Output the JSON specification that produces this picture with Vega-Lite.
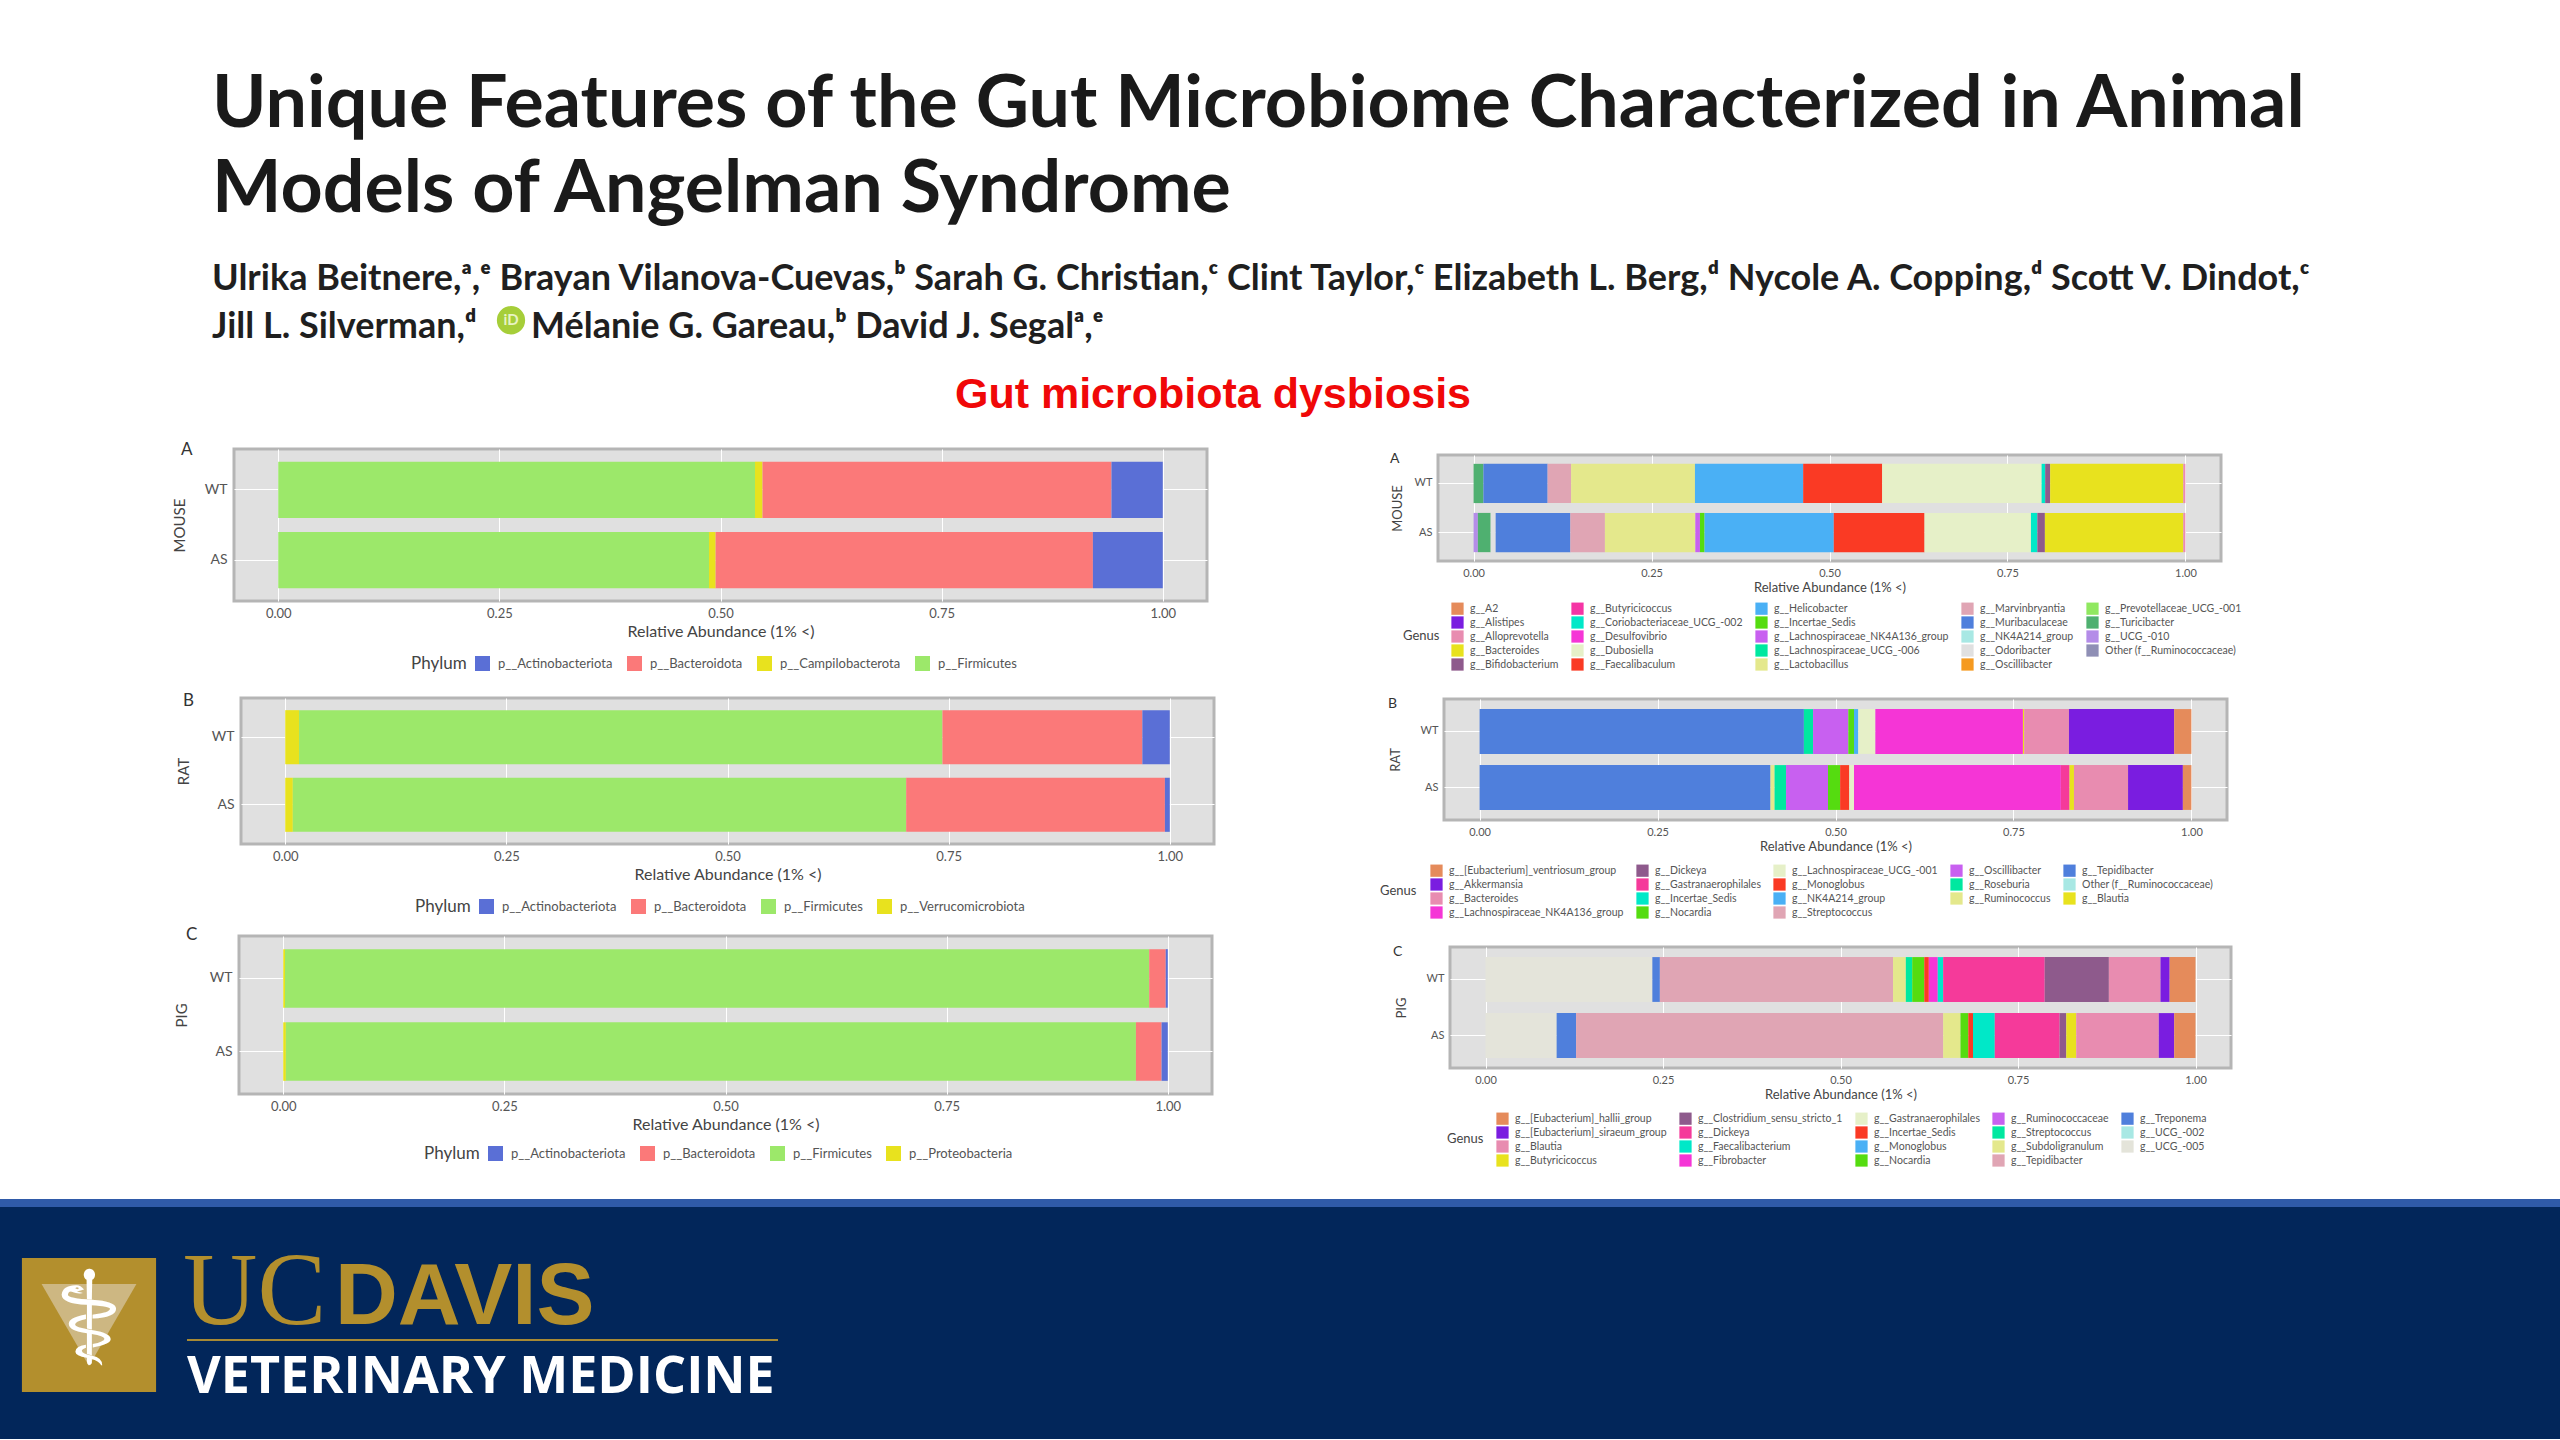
{"$schema":"https://vega.github.io/schema/vega-lite/v6.json","padding":{"left":-16,"top":0,"right":0,"bottom":0},"background":"white","spacing":18,"columns":1,"resolve":{"scale":{"color":"independent"},"legend":{"color":"independent"}},"config":{"font":"Lato","view":{"stroke":null},"concat":{"spacing":0},"axis":{"labelFont":"Lato","titleFont":"Lato","labelColor":"#555555","titleColor":"#444444","titleFontWeight":"normal","domain":false,"ticks":false,"gridColor":"#ffffff","gridWidth":1},"axisX":{"labelFontSize":13,"titleFontSize":16,"labelPadding":6,"titlePadding":3},"legend":{"orient":"none","titleOrient":"left","titleFont":"Lato","labelFont":"Lato","titleFontWeight":"normal","titleColor":"#444444","labelColor":"#555555","symbolType":"square","symbolStrokeWidth":0,"labelLimit":400},"title":{"font":"Lato","fontWeight":"normal","color":"#333333","anchor":"start","frame":"group"}},"concat":[{"spacing":0,"columns":1,"resolve":{"scale":{"color":"independent"},"legend":{"color":"independent"}},"concat":[{"width":2560,"height":439,"data":{"values":[{"text":"Unique Features of the Gut Microbiome Characterized in Animal","kind":"title","slot":1,"line":1},{"text":"Models of Angelman Syndrome","kind":"title","slot":1,"line":2},{"text":"Ulrika Beitnere,ᵃ,ᵉ Brayan Vilanova-Cuevas,ᵇ Sarah G. Christian,ᶜ Clint Taylor,ᶜ Elizabeth L. Berg,ᵈ Nycole A. Copping,ᵈ Scott V. Dindot,ᶜ","kind":"author","slot":1,"line":3},{"text":"Jill L. Silverman,ᵈ","kind":"author","slot":1,"line":4},{"text":"Mélanie G. Gareau,ᵇ David J. Segalᵃ,ᵉ","kind":"author","slot":3,"line":4},{"text":"iD","kind":"badge","slot":2,"line":3.63},{"text":"Gut microbiota dysbiosis","kind":"heading","slot":4,"line":5}]},"encoding":{"x":{"field":"slot","type":"quantitative","axis":null,"scale":{"domain":[1,2,3,4],"range":[212,511,531,1213],"zero":false,"nice":false}},"y":{"field":"line","type":"quantitative","axis":null,"scale":{"domain":[1,2,3,4,5],"range":[127,212,290,338,408],"zero":false,"nice":false}},"text":{"field":"text"}},"layer":[{"transform":[{"filter":"datum.kind==='title'"}],"mark":{"type":"text","align":"left","baseline":"alphabetic","font":"Lato","fontWeight":"bold","fontSize":73.6,"color":"#1a1a1a"}},{"transform":[{"filter":"datum.kind==='author'"}],"mark":{"type":"text","align":"left","baseline":"alphabetic","font":"Lato","fontWeight":"bold","fontSize":36,"color":"#1f1f1f"}},{"transform":[{"filter":"datum.kind==='badge'"}],"mark":{"type":"point","filled":true,"shape":"circle","size":800,"color":"#a6ce39","opacity":1}},{"transform":[{"filter":"datum.kind==='badge'"}],"mark":{"type":"text","align":"center","baseline":"middle","font":"Lato","fontWeight":"bold","fontSize":15,"color":"#e8f3c4"}},{"transform":[{"filter":"datum.kind==='heading'"}],"mark":{"type":"text","align":"center","baseline":"alphabetic","font":"Liberation Sans","fontWeight":"bold","fontSize":43,"color":"#f00808"}}]},{"spacing":0,"resolve":{"scale":{"color":"independent"},"legend":{"color":"independent"}},"concat":[{"width":168,"height":1,"data":{"values":[]},"mark":"rect","encoding":{}},{"spacing":161,"resolve":{"scale":{"color":"independent"},"legend":{"color":"independent"}},"concat":[{"spacing":7,"columns":1,"resolve":{"scale":{"color":"independent"},"legend":{"color":"independent"}},"concat":[{"spacing":16,"columns":1,"resolve":{"scale":{"color":"independent"},"legend":{"color":"independent"}},"concat":[{"spacing":0,"resolve":{"scale":{"color":"independent"},"legend":{"color":"independent"}},"concat":[{"width":2,"height":1,"data":{"values":[]},"mark":"rect","encoding":{}},{"width":973,"height":152,"view":{"fill":"#e0e0e0","stroke":"#b5b5b5","strokeWidth":3},"title":{"text":"A","fontSize":17,"dx":-53,"offset":-10},"data":{"values":[{"group":"WT","taxon":"p__Firmicutes","value":0.539,"k":1},{"group":"WT","taxon":"p__Campilobacterota","value":0.0085,"k":2},{"group":"WT","taxon":"p__Bacteroidota","value":0.3945,"k":3},{"group":"WT","taxon":"p__Actinobacteriota","value":0.058,"k":4},{"group":"AS","taxon":"p__Firmicutes","value":0.487,"k":1},{"group":"AS","taxon":"p__Campilobacterota","value":0.0075,"k":2},{"group":"AS","taxon":"p__Bacteroidota","value":0.4265,"k":3},{"group":"AS","taxon":"p__Actinobacteriota","value":0.079,"k":4}]},"mark":"bar","encoding":{"y":{"field":"group","type":"nominal","sort":["WT","AS"],"scale":{"paddingInner":0.2,"paddingOuter":0.18},"axis":{"title":"MOUSE","titleFontSize":15,"labelFontSize":14,"labelPadding":7,"titlePadding":17,"grid":true}},"x":{"field":"value","type":"quantitative","stack":"zero","scale":{"domain":[-0.05,1.05],"nice":false,"zero":false},"axis":{"title":"Relative Abundance (1% <)","values":[0,0.25,0.5,0.75,1],"format":".2f","grid":true}},"order":{"field":"k"},"color":{"field":"taxon","type":"nominal","scale":{"domain":["p__Actinobacteriota","p__Bacteroidota","p__Campilobacterota","p__Firmicutes"],"range":["#5a6fd6","#fb7979","#e8e21e","#9ce86a"]},"legend":{"title":"Phylum","direction":"horizontal","legendX":177,"legendY":207,"titleFontSize":17,"labelFontSize":13,"symbolSize":225,"columnPadding":14,"labelOffset":8,"titlePadding":8}}}}]},{"spacing":0,"resolve":{"scale":{"color":"independent"},"legend":{"color":"independent"}},"concat":[{"width":5.6,"height":1,"data":{"values":[]},"mark":"rect","encoding":{}},{"width":973,"height":146,"view":{"fill":"#e0e0e0","stroke":"#b5b5b5","strokeWidth":3},"title":{"text":"B","fontSize":17,"dx":-58,"offset":-12},"data":{"values":[{"group":"WT","taxon":"p__Verrucomicrobiota","value":0.0156,"k":1},{"group":"WT","taxon":"p__Firmicutes","value":0.7274,"k":2},{"group":"WT","taxon":"p__Bacteroidota","value":0.226,"k":3},{"group":"WT","taxon":"p__Actinobacteriota","value":0.031,"k":4},{"group":"AS","taxon":"p__Verrucomicrobiota","value":0.0086,"k":1},{"group":"AS","taxon":"p__Firmicutes","value":0.6934,"k":2},{"group":"AS","taxon":"p__Bacteroidota","value":0.2925,"k":3},{"group":"AS","taxon":"p__Actinobacteriota","value":0.0055,"k":4}]},"mark":"bar","encoding":{"y":{"field":"group","type":"nominal","sort":["WT","AS"],"scale":{"paddingInner":0.2,"paddingOuter":0.18},"axis":{"title":"RAT","titleFontSize":15,"labelFontSize":14,"labelPadding":7,"titlePadding":20,"grid":true}},"x":{"field":"value","type":"quantitative","stack":"zero","scale":{"domain":[-0.05,1.05],"nice":false,"zero":false},"axis":{"title":"Relative Abundance (1% <)","values":[0,0.25,0.5,0.75,1],"format":".2f","grid":true}},"order":{"field":"k"},"color":{"field":"taxon","type":"nominal","scale":{"domain":["p__Actinobacteriota","p__Bacteroidota","p__Firmicutes","p__Verrucomicrobiota"],"range":["#5a6fd6","#fb7979","#9ce86a","#e8e21e"]},"legend":{"title":"Phylum","direction":"horizontal","legendX":174,"legendY":201,"titleFontSize":17,"labelFontSize":13,"symbolSize":225,"columnPadding":14,"labelOffset":8,"titlePadding":8}}}}]}]},{"spacing":0,"resolve":{"scale":{"color":"independent"},"legend":{"color":"independent"}},"concat":[{"width":4,"height":1,"data":{"values":[]},"mark":"rect","encoding":{}},{"width":973,"height":158,"view":{"fill":"#e0e0e0","stroke":"#b5b5b5","strokeWidth":3},"title":{"text":"C","fontSize":17,"dx":-53,"offset":-8},"data":{"values":[{"group":"WT","taxon":"p__Proteobacteria","value":0.002,"k":1},{"group":"WT","taxon":"p__Firmicutes","value":0.977,"k":2},{"group":"WT","taxon":"p__Bacteroidota","value":0.0187,"k":3},{"group":"WT","taxon":"p__Actinobacteriota","value":0.0023,"k":4},{"group":"AS","taxon":"p__Proteobacteria","value":0.003,"k":1},{"group":"AS","taxon":"p__Firmicutes","value":0.961,"k":2},{"group":"AS","taxon":"p__Bacteroidota","value":0.029,"k":3},{"group":"AS","taxon":"p__Actinobacteriota","value":0.007,"k":4}]},"mark":"bar","encoding":{"y":{"field":"group","type":"nominal","sort":["WT","AS"],"scale":{"paddingInner":0.2,"paddingOuter":0.18},"axis":{"title":"PIG","titleFontSize":15,"labelFontSize":14,"labelPadding":7,"titlePadding":20,"grid":true}},"x":{"field":"value","type":"quantitative","stack":"zero","scale":{"domain":[-0.05,1.05],"nice":false,"zero":false},"axis":{"title":"Relative Abundance (1% <)","values":[0,0.25,0.5,0.75,1],"format":".2f","grid":true}},"order":{"field":"k"},"color":{"field":"taxon","type":"nominal","scale":{"domain":["p__Actinobacteriota","p__Bacteroidota","p__Firmicutes","p__Proteobacteria"],"range":["#5a6fd6","#fb7979","#9ce86a","#e8e21e"]},"legend":{"title":"Phylum","direction":"horizontal","legendX":185,"legendY":210,"titleFontSize":17,"labelFontSize":13,"symbolSize":225,"columnPadding":14,"labelOffset":8,"titlePadding":8}}}}]}]},{"spacing":0,"columns":1,"resolve":{"scale":{"color":"independent"},"legend":{"color":"independent"}},"concat":[{"width":1,"height":1,"data":{"values":[]},"mark":"rect","encoding":{}},{"spacing":22,"columns":1,"resolve":{"scale":{"color":"independent"},"legend":{"color":"independent"}},"concat":[{"spacing":0,"resolve":{"scale":{"color":"independent"},"legend":{"color":"independent"}},"concat":[{"width":11,"height":1,"data":{"values":[]},"mark":"rect","encoding":{}},{"width":783,"height":106,"view":{"fill":"#e0e0e0","stroke":"#b5b5b5","strokeWidth":3},"title":{"text":"A","fontSize":14,"dx":-48,"offset":-11},"data":{"values":[{"group":"WT","taxon":"g__Turicibacter","value":0.0138,"k":1},{"group":"WT","taxon":"g__Muribaculaceae","value":0.0902,"k":2},{"group":"WT","taxon":"g__Marvinbryantia","value":0.033,"k":3},{"group":"WT","taxon":"g__Lactobacillus","value":0.174,"k":4},{"group":"WT","taxon":"g__Helicobacter","value":0.152,"k":5},{"group":"WT","taxon":"g__Faecalibaculum","value":0.111,"k":6},{"group":"WT","taxon":"g__Dubosiella","value":0.224,"k":7},{"group":"WT","taxon":"g__Coriobacteriaceae_UCG_-002","value":0.005,"k":8},{"group":"WT","taxon":"g__Bifidobacterium","value":0.007,"k":9},{"group":"WT","taxon":"g__Bacteroides","value":0.187,"k":10},{"group":"WT","taxon":"g__Alloprevotella","value":0.003,"k":11},{"group":"AS","taxon":"g__UCG_-010","value":0.006,"k":1},{"group":"AS","taxon":"g__Turicibacter","value":0.018,"k":2},{"group":"AS","taxon":"g__Odoribacter","value":0.007,"k":3},{"group":"AS","taxon":"g__Muribaculaceae","value":0.105,"k":4},{"group":"AS","taxon":"g__Marvinbryantia","value":0.0485,"k":5},{"group":"AS","taxon":"g__Lactobacillus","value":0.127,"k":6},{"group":"AS","taxon":"g__Lachnospiraceae_NK4A136_group","value":0.0065,"k":7},{"group":"AS","taxon":"g__Incertae_Sedis","value":0.0065,"k":8},{"group":"AS","taxon":"g__Helicobacter","value":0.1815,"k":9},{"group":"AS","taxon":"g__Faecalibaculum","value":0.1275,"k":10},{"group":"AS","taxon":"g__Dubosiella","value":0.1495,"k":11},{"group":"AS","taxon":"g__Coriobacteriaceae_UCG_-002","value":0.009,"k":12},{"group":"AS","taxon":"g__Bifidobacterium","value":0.0106,"k":13},{"group":"AS","taxon":"g__Bacteroides","value":0.1944,"k":14},{"group":"AS","taxon":"g__Alloprevotella","value":0.003,"k":15}]},"mark":"bar","encoding":{"y":{"field":"group","type":"nominal","sort":["WT","AS"],"scale":{"paddingInner":0.2,"paddingOuter":0.18},"axis":{"title":"MOUSE","titleFontSize":13,"labelFontSize":11,"labelPadding":6,"titlePadding":10,"grid":true}},"x":{"field":"value","type":"quantitative","stack":"zero","scale":{"domain":[-0.05,1.05],"nice":false,"zero":false},"axis":{"title":"Relative Abundance (1% <)","values":[0,0.25,0.5,0.75,1],"format":".2f","grid":true,"labelFontSize":11,"titleFontSize":13}},"order":{"field":"k"},"color":{"field":"taxon","type":"nominal","scale":{"domain":["g__A2","g__Alistipes","g__Alloprevotella","g__Bacteroides","g__Bifidobacterium","g__Butyricicoccus","g__Coriobacteriaceae_UCG_-002","g__Desulfovibrio","g__Dubosiella","g__Faecalibaculum","g__Helicobacter","g__Incertae_Sedis","g__Lachnospiraceae_NK4A136_group","g__Lachnospiraceae_UCG_-006","g__Lactobacillus","g__Marvinbryantia","g__Muribaculaceae","g__NK4A214_group","g__Odoribacter","g__Oscillibacter","g__Prevotellaceae_UCG_-001","g__Turicibacter","g__UCG_-010","Other (f__Ruminococcaceae)"],"range":["#e58b5b","#7a1de0","#e88cb0","#e8e21e","#8e5a8c","#f535a5","#00e8c8","#f535d6","#e6f0c8","#fa3a24","#4ab0f5","#55dc10","#c860f0","#00e8a0","#e4e88c","#e0a5b4","#4f7fdc","#a8e8e4","#e0e0e0","#f59a20","#90e860","#4fb070","#b48ce8","#8f8fb5"]},"legend":{"title":"Genus","direction":"vertical","columns":5,"legendX":-35,"legendY":147,"titleFontSize":13,"labelFontSize":10.5,"symbolSize":150,"columnPadding":12,"rowPadding":1,"labelOffset":6,"titlePadding":11}}}}]},{"spacing":0,"resolve":{"scale":{"color":"independent"},"legend":{"color":"independent"}},"concat":[{"width":1,"height":1,"data":{"values":[]},"mark":"rect","encoding":{}},{"width":783,"height":121,"view":{"fill":"#e0e0e0","stroke":"#b5b5b5","strokeWidth":3},"title":{"text":"B","fontSize":14,"dx":-56,"offset":-12},"data":{"values":[{"group":"WT","taxon":"g__Tepidibacter","value":0.4556,"k":1},{"group":"WT","taxon":"g__Roseburia","value":0.0129,"k":2},{"group":"WT","taxon":"g__Oscillibacter","value":0.0495,"k":3},{"group":"WT","taxon":"g__Nocardia","value":0.008,"k":4},{"group":"WT","taxon":"g__NK4A214_group","value":0.006,"k":5},{"group":"WT","taxon":"g__Lachnospiraceae_UCG_-001","value":0.024,"k":6},{"group":"WT","taxon":"g__Lachnospiraceae_NK4A136_group","value":0.2073,"k":7},{"group":"WT","taxon":"g__Blautia","value":0.0017,"k":8},{"group":"WT","taxon":"g__Bacteroides","value":0.063,"k":9},{"group":"WT","taxon":"g__Akkermansia","value":0.1478,"k":10},{"group":"WT","taxon":"g__[Eubacterium]_ventriosum_group","value":0.0242,"k":11},{"group":"AS","taxon":"g__Tepidibacter","value":0.4087,"k":1},{"group":"AS","taxon":"g__Ruminococcus","value":0.0057,"k":2},{"group":"AS","taxon":"g__Roseburia","value":0.0161,"k":3},{"group":"AS","taxon":"g__Oscillibacter","value":0.059,"k":4},{"group":"AS","taxon":"g__Nocardia","value":0.017,"k":5},{"group":"AS","taxon":"g__Monoglobus","value":0.0129,"k":6},{"group":"AS","taxon":"g__Lachnospiraceae_UCG_-001","value":0.0066,"k":7},{"group":"AS","taxon":"g__Lachnospiraceae_NK4A136_group","value":0.2906,"k":8},{"group":"AS","taxon":"g__Gastranaerophilales","value":0.0122,"k":9},{"group":"AS","taxon":"g__Blautia","value":0.0062,"k":10},{"group":"AS","taxon":"g__Bacteroides","value":0.076,"k":11},{"group":"AS","taxon":"g__Akkermansia","value":0.077,"k":12},{"group":"AS","taxon":"g__[Eubacterium]_ventriosum_group","value":0.012,"k":13}]},"mark":"bar","encoding":{"y":{"field":"group","type":"nominal","sort":["WT","AS"],"scale":{"paddingInner":0.2,"paddingOuter":0.18},"axis":{"title":"RAT","titleFontSize":13,"labelFontSize":11,"labelPadding":6,"titlePadding":18,"grid":true}},"x":{"field":"value","type":"quantitative","stack":"zero","scale":{"domain":[-0.05,1.05],"nice":false,"zero":false},"axis":{"title":"Relative Abundance (1% <)","values":[0,0.25,0.5,0.75,1],"format":".2f","grid":true,"labelFontSize":11,"titleFontSize":13}},"order":{"field":"k"},"color":{"field":"taxon","type":"nominal","scale":{"domain":["g__[Eubacterium]_ventriosum_group","g__Akkermansia","g__Bacteroides","g__Blautia","g__Dickeya","g__Gastranaerophilales","g__Incertae_Sedis","g__Lachnospiraceae_NK4A136_group","g__Lachnospiraceae_UCG_-001","g__Monoglobus","g__NK4A214_group","g__Nocardia","g__Oscillibacter","g__Roseburia","g__Ruminococcus","g__Streptococcus","g__Tepidibacter","Other (f__Ruminococcaceae)"],"range":["#e58b5b","#7a1de0","#e88cb0","#e8e21e","#8e5a8c","#f53a9a","#00e8c8","#f535d6","#e6f0c8","#fa3a24","#4ab0f5","#55dc10","#c860f0","#00e8a0","#e4e88c","#e0a5b4","#4f7fdc","#a8e8e4"]},"legend":{"title":"Genus","direction":"vertical","columns":5,"legendX":-64,"legendY":165,"titleFontSize":13,"labelFontSize":10.5,"symbolSize":150,"columnPadding":12,"rowPadding":1,"labelOffset":6,"titlePadding":13}}}}]},{"spacing":0,"resolve":{"scale":{"color":"independent"},"legend":{"color":"independent"}},"concat":[{"width":14,"height":1,"data":{"values":[]},"mark":"rect","encoding":{}},{"width":781,"height":121,"view":{"fill":"#e0e0e0","stroke":"#b5b5b5","strokeWidth":3},"title":{"text":"C","fontSize":14,"dx":-57,"offset":-12},"data":{"values":[{"group":"WT","taxon":"g__UCG_-005","value":0.235,"k":1},{"group":"WT","taxon":"g__Treponema","value":0.0106,"k":2},{"group":"WT","taxon":"g__Tepidibacter","value":0.3284,"k":3},{"group":"WT","taxon":"g__Subdoligranulum","value":0.018,"k":4},{"group":"WT","taxon":"g__Streptococcus","value":0.009,"k":5},{"group":"WT","taxon":"g__Nocardia","value":0.017,"k":6},{"group":"WT","taxon":"g__Incertae_Sedis","value":0.0064,"k":7},{"group":"WT","taxon":"g__Fibrobacter","value":0.0126,"k":8},{"group":"WT","taxon":"g__Faecalibacterium","value":0.0076,"k":9},{"group":"WT","taxon":"g__Dickeya","value":0.143,"k":10},{"group":"WT","taxon":"g__Clostridium_sensu_stricto_1","value":0.0904,"k":11},{"group":"WT","taxon":"g__Blautia","value":0.0727,"k":12},{"group":"WT","taxon":"g__[Eubacterium]_siraeum_group","value":0.0129,"k":13},{"group":"WT","taxon":"g__[Eubacterium]_hallii_group","value":0.0364,"k":14},{"group":"AS","taxon":"g__UCG_-005","value":0.1002,"k":1},{"group":"AS","taxon":"g__Treponema","value":0.0274,"k":2},{"group":"AS","taxon":"g__Tepidibacter","value":0.517,"k":3},{"group":"AS","taxon":"g__Subdoligranulum","value":0.0244,"k":4},{"group":"AS","taxon":"g__Nocardia","value":0.011,"k":5},{"group":"AS","taxon":"g__Incertae_Sedis","value":0.0066,"k":6},{"group":"AS","taxon":"g__Faecalibacterium","value":0.0307,"k":7},{"group":"AS","taxon":"g__Dickeya","value":0.0913,"k":8},{"group":"AS","taxon":"g__Clostridium_sensu_stricto_1","value":0.0094,"k":9},{"group":"AS","taxon":"g__Butyricicoccus","value":0.014,"k":10},{"group":"AS","taxon":"g__Blautia","value":0.1163,"k":11},{"group":"AS","taxon":"g__[Eubacterium]_siraeum_group","value":0.0217,"k":12},{"group":"AS","taxon":"g__[Eubacterium]_hallii_group","value":0.03,"k":13}]},"mark":"bar","encoding":{"y":{"field":"group","type":"nominal","sort":["WT","AS"],"scale":{"paddingInner":0.2,"paddingOuter":0.18},"axis":{"title":"PIG","titleFontSize":13,"labelFontSize":11,"labelPadding":6,"titlePadding":18,"grid":true}},"x":{"field":"value","type":"quantitative","stack":"zero","scale":{"domain":[-0.05,1.05],"nice":false,"zero":false},"axis":{"title":"Relative Abundance (1% <)","values":[0,0.25,0.5,0.75,1],"format":".2f","grid":true,"labelFontSize":11,"titleFontSize":13}},"order":{"field":"k"},"color":{"field":"taxon","type":"nominal","scale":{"domain":["g__[Eubacterium]_hallii_group","g__[Eubacterium]_siraeum_group","g__Blautia","g__Butyricicoccus","g__Clostridium_sensu_stricto_1","g__Dickeya","g__Faecalibacterium","g__Fibrobacter","g__Gastranaerophilales","g__Incertae_Sedis","g__Monoglobus","g__Nocardia","g__Ruminococcaceae","g__Streptococcus","g__Subdoligranulum","g__Tepidibacter","g__Treponema","g__UCG_-002","g__UCG_-005"],"range":["#e58b5b","#7a1de0","#e88cb0","#e8e21e","#8e5a8c","#f53a9a","#00e8c8","#f535d6","#e6f0c8","#fa3a24","#4ab0f5","#55dc10","#c860f0","#00e8a0","#e4e88c","#e0a5b4","#4f7fdc","#a8e8e4","#e4e4da"]},"legend":{"title":"Genus","direction":"vertical","columns":5,"legendX":-3,"legendY":165,"titleFontSize":13,"labelFontSize":10.5,"symbolSize":150,"columnPadding":12,"rowPadding":1,"labelOffset":6,"titlePadding":12}}}}]}]}]}]}]}]},{"width":2560,"height":240,"view":{"fill":"#02265a"},"data":{"values":[{"part":"band","slot":0,"line":1},{"part":"band","slot":6,"line":1},{"part":"shield","slot":1,"line":2},{"part":"inset","slot":1,"line":2},{"part":"staff","slot":1,"line":2,"text":"⚕"},{"part":"uc","slot":2,"line":3,"text":"UC"},{"part":"davis","slot":3,"line":3,"text":"DAVIS"},{"part":"rule","slot":4,"line":4},{"part":"rule","slot":5,"line":4},{"part":"vet","slot":4,"line":5,"text":"VETERINARY MEDICINE"}]},"encoding":{"x":{"field":"slot","type":"quantitative","axis":null,"scale":{"domain":[0,1,2,3,4,5,6],"range":[0,89,183,335,187,778,2560],"zero":false,"nice":false}},"y":{"field":"line","type":"quantitative","axis":null,"scale":{"domain":[1,2,3,4,5],"range":[4,126,125,141,194],"zero":false,"nice":false}}},"layer":[{"transform":[{"filter":"datum.part==='band'"}],"mark":{"type":"line","color":"#2f5aa8","strokeWidth":8}},{"transform":[{"filter":"datum.part==='shield'"}],"mark":{"type":"point","shape":"square","filled":true,"size":18000,"color":"#b38f2d","opacity":1}},{"transform":[{"filter":"datum.part==='inset'"}],"mark":{"type":"point","shape":"triangle-down","filled":true,"size":9000,"color":"#cdb782","opacity":1}},{"transform":[{"filter":"datum.part==='staff'"}],"mark":{"type":"text","font":"DejaVu Sans","fontSize":130,"color":"#ffffff","baseline":"middle","align":"center"},"encoding":{"text":{"field":"text"}}},{"transform":[{"filter":"datum.part==='uc'"}],"mark":{"type":"text","font":"Liberation Serif","fontSize":103,"color":"#b38f2d","baseline":"alphabetic","align":"left"},"encoding":{"text":{"field":"text"}}},{"transform":[{"filter":"datum.part==='davis'"}],"mark":{"type":"text","font":"Liberation Sans","fontWeight":"bold","fontSize":87,"color":"#b38f2d","baseline":"alphabetic","align":"left"},"encoding":{"text":{"field":"text"}}},{"transform":[{"filter":"datum.part==='rule'"}],"mark":{"type":"line","color":"#a88a34","strokeWidth":2}},{"transform":[{"filter":"datum.part==='vet'"}],"mark":{"type":"text","font":"Open Sans","fontWeight":"bold","fontSize":52,"color":"#ffffff","baseline":"alphabetic","align":"left"},"encoding":{"text":{"field":"text"}}}]}]}
